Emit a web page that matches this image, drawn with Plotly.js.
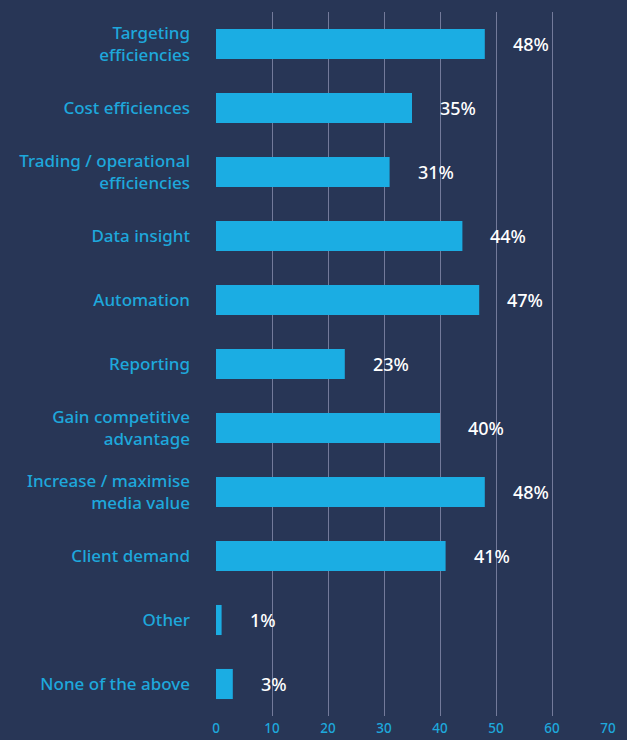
<!DOCTYPE html>
<html>
<head>
<meta charset="utf-8">
<script src="https://cdn.plot.ly/plotly-3.0.1.min.js"></script>
<style>
html,body{margin:0;padding:0;background:#283656;}
#chart{width:627px;height:740px;}
</style>
</head>
<body>
<div id="chart"></div>
<script>
const categories = [
  "Targeting<br>efficiencies",
  "Cost efficiences",
  "Trading / operational<br>efficiencies",
  "Data insight",
  "Automation",
  "Reporting",
  "Gain competitive<br>advantage",
  "Increase / maximise<br>media value",
  "Client demand",
  "Other",
  "None of the above"
];
const values = [48, 35, 31, 44, 47, 23, 40, 48, 41, 1, 3];
const valueLabels = ["48%", "35%", "31%", "44%", "47%", "23%", "40%", "48%", "41%", "1%", "3%"];
const xTicks = [0, 10, 20, 30, 40, 50, 60, 70];

const trace = {
  type: "bar",
  orientation: "h",
  y: categories,
  x: values,
  marker: {color: "#1bade3", line: {width: 0}},
  width: 0.47,
  hoverinfo: "none"
};

const annotations = values.map((v, i) => ({
  x: v, y: categories[i], xref: "x", yref: "y",
  text: valueLabels[i], showarrow: false,
  xanchor: "left", yanchor: "middle", xshift: 26,
  font: {family: "Noto Sans, sans-serif", size: 18, color: "#ffffff", weight: 500}
}));

const layout = {
  width: 627, height: 740,
  paper_bgcolor: "#283656",
  plot_bgcolor: "rgba(0,0,0,0)",
  margin: {l: 216, r: 19, t: 12, b: 24, pad: 0},
  showlegend: false,
  xaxis: {
    range: [0, 70],
    tickvals: xTicks,
    ticktext: xTicks.map(String),
    showgrid: true,
    gridcolor: "#737a9a",
    gridwidth: 1,
    zeroline: false,
    showline: false,
    ticks: "",
    ticklabelstandoff: 2,
    tickfont: {family: "Noto Sans, sans-serif", size: 13.5, color: "#1ea8dc", weight: 500},
    fixedrange: true
  },
  yaxis: {
    type: "category",
    autorange: "reversed",
    showgrid: false,
    zeroline: false,
    showline: false,
    ticks: "",
    ticklabelstandoff: 25,
    tickfont: {family: "Noto Sans, sans-serif", size: 17, color: "#1ea8dc", weight: 500},
    fixedrange: true
  },
  annotations: annotations
};

Plotly.newPlot("chart", [trace], layout, {displayModeBar: false, staticPlot: true});
</script>
</body>
</html>
